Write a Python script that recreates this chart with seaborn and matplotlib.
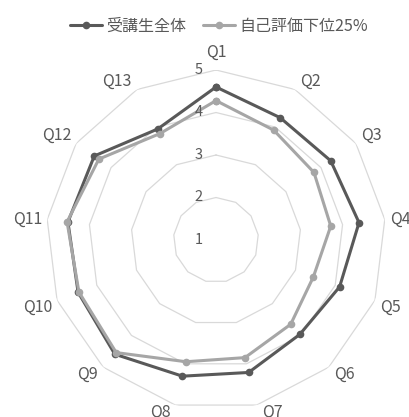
import numpy as np
import pandas as pd
import matplotlib
matplotlib.use("Agg")
import matplotlib.pyplot as plt
import matplotlib.transforms as mtransforms
import seaborn as sns

categories = ["Q1", "Q2", "Q3", "Q4", "Q5", "Q6", "Q7", "Q8", "Q9", "Q10", "Q11", "Q12", "Q13"]
series_names = ["受講生全体", "自己評価下位25%"]
all_students = [4.60, 4.25, 4.28, 4.39, 4.11, 3.97, 4.21, 4.30, 4.59, 4.47, 4.51, 4.48, 3.95]
bottom25 = [4.28, 3.92, 3.80, 3.72, 3.45, 3.65, 3.85, 3.95, 4.54, 4.45, 4.53, 4.35, 3.83]
r_ticks = [1, 2, 3, 4, 5]
colors = ["#595959", "#a6a6a6"]

sns.set_theme(style="white")
plt.rcParams['font.family'] = ['Noto Sans CJK JP', 'DejaVu Sans']

n = len(categories)
angles = np.linspace(0, 2 * np.pi, n, endpoint=False)
ang_closed = np.append(angles, angles[0])

rows = []
for name, vals in zip(series_names, [all_students, bottom25]):
    vc = list(vals) + [vals[0]]
    for i, (a, v) in enumerate(zip(ang_closed, vc)):
        rows.append({"theta": a, "value": v, "series": name, "order": i})
df = pd.DataFrame(rows)

fig = plt.figure(figsize=(4.10, 4.17), dpi=100)
ax = fig.add_axes([46/410, 7/417, 340/410, 340/417], projection="polar")
ax.set_theta_zero_location("N")
ax.set_theta_direction(-1)

# polygon grid rings
for v in r_ticks[1:]:
    ax.plot(ang_closed, [v] * (n + 1), color="#d9d9d9", lw=0.9, zorder=1)

sns.lineplot(data=df, x="theta", y="value", hue="series", hue_order=series_names,
             palette=colors, sort=False, estimator=None, units="series",
             marker="o", markersize=5.5, markeredgewidth=0, linewidth=2.2,
             ax=ax, zorder=3)

ax.set_ylim(1, 5)
ax.set_yticks(r_ticks)
ax.set_yticklabels([])
ax.set_xticks(angles)
ax.set_xticklabels([])
ax.tick_params(size=0)
ax.grid(False)
ax.spines["polar"].set_visible(False)
ax.set_xlabel("")
ax.set_ylabel("")

# category labels placed outside the outer ring (Excel-like anchoring)
rmax = r_ticks[-1]
for a, lab in zip(angles, categories):
    s, c = np.sin(a), np.cos(a)
    if abs(s) < 0.05:
        ha, dx = "center", 0
    elif s > 0:
        ha, dx = "left", 5
    else:
        ha, dx = "right", -5
    if c > 0.3:
        va = "bottom"
        dy = 9 if abs(s) < 0.05 else 0
    elif c < -0.3:
        va, dy = "top", 1
    else:
        va, dy = "center", 0
    tr = mtransforms.offset_copy(ax.transData, fig=fig, x=dx, y=dy, units="dots")
    ax.text(a, rmax, lab, transform=tr, ha=ha, va=va, fontsize=11.5,
            color="#595959", clip_on=False)

off = mtransforms.offset_copy(ax.transData, fig=fig, x=-17, y=0, units="dots")
for v in r_ticks:
    ax.text(0, v, str(v), transform=off, ha="center", va="center",
            fontsize=10.5, color="#595959")

ax.legend_.remove()
handles, labels = ax.get_legend_handles_labels()
fig.legend(handles[:2], series_names, loc="center", bbox_to_anchor=(0.534, 0.937),
           ncol=2, frameon=False, fontsize=11.5, handlelength=2.0,
           columnspacing=1.0, handletextpad=0.3, labelcolor="#595959")

fig.savefig("out.png", dpi=100)
